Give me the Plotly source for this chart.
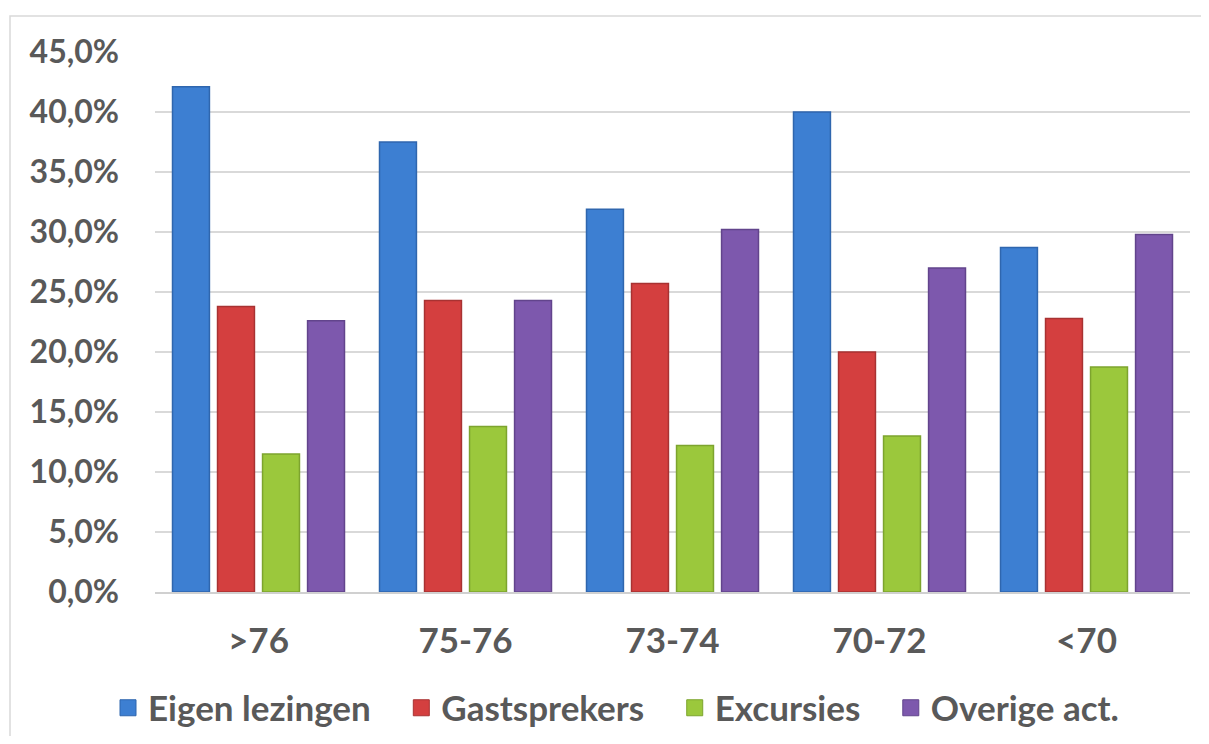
import plotly.graph_objects as go

categories = [">76", "75-76", "73-74", "70-72", "<70"]
series_names = ["Eigen lezingen", "Gastsprekers", "Excursies", "Overige act."]
eigen_lezingen = [42.1, 37.5, 31.9, 40.0, 28.7]
gastsprekers = [23.8, 24.3, 25.7, 20.0, 22.8]
excursies = [11.5, 13.8, 12.2, 13.0, 18.75]
overige_act = [22.6, 24.3, 30.2, 27.0, 29.8]
y_tick_values = [0, 5, 10, 15, 20, 25, 30, 35, 40, 45]
y_tick_labels = ["0,0%", "5,0%", "10,0%", "15,0%", "20,0%", "25,0%", "30,0%", "35,0%", "40,0%", "45,0%"]

fill_colors = ["#3D7FD2", "#D43F3F", "#9BC83C", "#7D58AD"]
edge_colors = ["#2F66AE", "#A83232", "#7DA42E", "#62448C"]
values = [eigen_lezingen, gastsprekers, excursies, overige_act]

FONT = "Lato"
TXT = "#595959"
NBSP = "\u00a0"

fig = go.Figure()
for i, (name, vals, fc, ec) in enumerate(zip(series_names, values, fill_colors, edge_colors)):
    fig.add_trace(go.Bar(
        x=categories, y=vals, name=name,
        marker=dict(color=fc, line=dict(color=ec, width=1.5)),
        showlegend=False,
    ))
    label = name + (NBSP * 3 if i < len(series_names) - 1 else "")
    fig.add_trace(go.Scatter(
        x=[None], y=[None], name=label, mode="markers",
        marker=dict(symbol="square", size=16, color=fc, line=dict(color=ec, width=1)),
        showlegend=True,
    ))

OFF = 8  # page body margin
W, H = 1209 - 2 * OFF, 744 - 2 * OFF
L = 155 - OFF
T = 52 - OFF
R = W - (1190 - OFF)
B = H - (592 - OFF)
pw = W - L - R
ph = H - T - B


def py(screen_y):
    return ((592 - OFF) - (screen_y - OFF)) / ph


def px(screen_x):
    return ((screen_x - OFF) - L) / pw


fig.update_layout(
    width=W, height=H,
    margin=dict(l=L, r=R, t=T, b=B, pad=0, autoexpand=False),
    paper_bgcolor="white", plot_bgcolor="white",
    barmode="group", bargap=0.13, bargroupgap=0.18,
    font=dict(family=FONT, size=32, color=TXT, weight="bold"),
    xaxis=dict(
        showgrid=False, showline=True, linecolor="#D0D0D0", linewidth=2,
        ticks="", ticklabelstandoff=17,
        tickfont=dict(family=FONT, size=35, color=TXT, weight="bold"),
        fixedrange=True,
    ),
    yaxis=dict(
        range=[0, 45], tickvals=y_tick_values, ticktext=y_tick_labels,
        showgrid=True, gridcolor="#D9D9D9", gridwidth=2,
        zeroline=False, showline=False, ticks="", ticklabelstandoff=35,
        tickfont=dict(family=FONT, size=32, color=TXT, weight="bold"),
        fixedrange=True,
    ),
    legend=dict(
        orientation="h", x=px(108), xanchor="left", y=py(708), yanchor="middle",
        font=dict(family=FONT, size=35, color=TXT, weight="bold"),
        itemclick=False, itemdoubleclick=False, traceorder="normal",
    ),
    shapes=[dict(
        type="rect", xref="paper", yref="paper",
        x0=px(10), x1=px(1208), y0=py(780), y1=py(16),
        line=dict(color="#D9D9D9", width=1.5), fillcolor="rgba(0,0,0,0)", layer="below",
    )],
)

fig.write_html("out.html")
